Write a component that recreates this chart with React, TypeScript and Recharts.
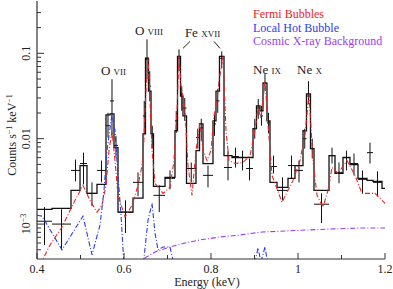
import React from 'react';
import {
  ComposedChart, Line, Scatter, ErrorBar, XAxis, YAxis,
  ReferenceDot, ReferenceLine, Legend, Customized,
} from 'recharts';

const SERIF = '"Liberation Serif", "Times New Roman", serif';
const INK = '#222';

// spectral bins (keV edges) and folded total model
const binEdges = [
  0.4, 0.4345, 0.4782, 0.4989, 0.5149, 0.5379, 0.5586, 0.5678, 0.577, 0.5862,
  0.6207, 0.6437, 0.6494, 0.6563, 0.6621, 0.6678, 0.6943, 0.7172, 0.723, 0.7299,
  0.7356, 0.7437, 0.7655, 0.7736, 0.7816, 0.8046, 0.8115, 0.8195, 0.8299, 0.8483,
  0.8644, 0.8805, 0.8966, 0.9046, 0.9126, 0.9195, 0.9287, 0.9356, 0.9517, 0.977,
  0.9931, 1.0115, 1.0195, 1.0287, 1.0368, 1.0713, 1.0851, 1.1034, 1.1195, 1.1379,
  1.1586, 1.1724, 1.1931, 1.21,
];
const modelTotal = [
  0.00149, 0.00153, 0.00248, 0.00485, 0.00229, 0.00292, 0.019, 0.0195, 0.00786, 0.00138,
  0.00201, 0.0114, 0.0875, 0.0361, 0.0114, 0.00277, 0.00352, 0.0124, 0.0923, 0.0316,
  0.0185, 0.003, 0.00725, 0.0149, 0.00512, 0.0162, 0.0361, 0.0923, 0.00634, 0.00602,
  0.00602, 0.00602, 0.0131, 0.0242, 0.0212, 0.0448, 0.0162, 0.00308, 0.00269, 0.00343,
  0.00485, 0.0124, 0.0334, 0.00765, 0.00248, 0.00634, 0.00392, 0.00602, 0.00499, 0.00343,
  0.00325, 0.00316, 0.00262,
];

// observed rate per bin with 1-sigma bounds
const counts = [
  0.00108, 0.001, 0.00425, 0.00512, 0.00229, 0.00425, 0.0142, 0.0277, 0.0083, 0.00138,
  0.00308, 0.0185, 0.0851, 0.0413, 0.0108, 0.00217, 0.00343, 0.0162, 0.0875, 0.0334,
  0.0229, 0.00448, 0.0103, 0.0134, 0.00372, 0.0149, 0.0277, 0.0875, 0.0046, 0.00618,
  0.00602, 0.00448, 0.0131, 0.0229, 0.0185, 0.0448, 0.0153, 0.00472, 0.00248, 0.00485,
  0.00425, 0.01, 0.0316, 0.00765, 0.00171, 0.00634, 0.00403, 0.00602, 0.00512, 0.00334,
  0.00687, 0.00308,
];
const countsLow = [
  0.00057, 0.000499, 0.00316, 0.00292, 0.00162, 0.00308, 0.0103, 0.0103, 0.00602, 0.000785,
  0.00212, 0.0114, 0.0498, 0.0277, 0.00765, 0.00138, 0.00255, 0.0117, 0.0618, 0.0212,
  0.0162, 0.00308, 0.00765, 0.00948, 0.00269, 0.0108, 0.0201, 0.067, 0.00325, 0.0046,
  0.00425, 0.00325, 0.01, 0.0171, 0.0142, 0.0361, 0.0117, 0.00392, 0.0019, 0.00343,
  0.00308, 0.00765, 0.0255, 0.00585, 0.00103, 0.00512, 0.003, 0.00425, 0.00372, 0.00229,
  0.00512, 0.00212,
];
const countsHigh = [
  0.00158, 0.00149, 0.0057, 0.00687, 0.00308, 0.00555, 0.0201, 0.0498, 0.0108, 0.0019,
  0.00403, 0.0277, 0.1456, 0.0618, 0.0142, 0.00284, 0.00425, 0.0212, 0.1113, 0.0413,
  0.03, 0.00526, 0.0131, 0.0171, 0.00485, 0.0201, 0.0381, 0.1055, 0.00725, 0.00786,
  0.00725, 0.00585, 0.0171, 0.0292, 0.0242, 0.057, 0.0201, 0.00634, 0.00352, 0.00634,
  0.00555, 0.0131, 0.0472, 0.01, 0.00229, 0.00786, 0.00526, 0.00725, 0.0067, 0.00425,
  0.00898, 0.00414,
];

// model components [keV, rate]
const fermiBubbles = [
  [0.4069, 3.33e-4], [0.4299, 5.7e-4], [0.4575, 9.23e-4], [0.4874, 0.0019], [0.5057, 0.00284],
  [0.5218, 0.0019], [0.5379, 0.00138], [0.5494, 0.00166], [0.5586, 0.00284], [0.5655, 0.00725],
  [0.5724, 0.0124], [0.5793, 0.00555], [0.5862, 0.00217], [0.6023, 0.00121], [0.6184, 0.00166],
  [0.6322, 0.00284], [0.6437, 0.00555], [0.6506, 0.0361], [0.6552, 0.0875], [0.6598, 0.0277],
  [0.6644, 0.00725], [0.6713, 0.003], [0.6897, 0.00229], [0.7057, 0.00269], [0.7149, 0.00555],
  [0.7218, 0.0212], [0.7264, 0.0923], [0.731, 0.0413], [0.7356, 0.0316], [0.7402, 0.0212],
  [0.7471, 0.00485], [0.7563, 0.00217], [0.7655, 0.00725], [0.7747, 0.0153], [0.7816, 0.00725],
  [0.7908, 0.00555], [0.8, 0.00725], [0.8069, 0.0185], [0.8138, 0.0277], [0.8184, 0.0472],
  [0.8276, 0.0923], [0.8345, 0.0124], [0.8414, 0.00555], [0.8552, 0.00512], [0.8736, 0.00526],
  [0.8897, 0.00634], [0.9011, 0.0124], [0.908, 0.0229], [0.9149, 0.0175], [0.9241, 0.0472],
  [0.931, 0.0149], [0.9402, 0.00372], [0.9632, 0.0018], [0.9885, 0.00325], [1.0046, 0.00555],
  [1.0161, 0.0114], [1.0253, 0.0334], [1.0345, 0.00555], [1.0437, 0.00217], [1.0575, 0.00158],
  [1.069, 0.00248], [1.0782, 0.0046], [1.092, 0.00392], [1.1126, 0.00555], [1.131, 0.00372],
  [1.1471, 0.00229], [1.177, 0.00229], [1.2046, 0.00166],
];
const localHotBubble = [
  [0.4, 0.00127], [0.4115, 0.00124], [0.4575, 4.99e-4], [0.5057, 0.00124], [0.5264, 4.36e-4],
  [0.5448, 9.73e-4], [0.554, 0.00248], [0.5609, 0.00725], [0.5724, 0.0195], [0.5793, 0.0124],
  [0.5862, 0.00372], [0.5931, 0.00127], [0.6, 3.33e-4], [0.6138, 1.31e-4], [0.6368, 1.31e-4],
  [0.646, 4.03e-4], [0.6552, 0.00111], [0.6644, 0.00175], [0.6713, 7.85e-4], [0.6782, 4.99e-4],
  [0.6897, 5.4e-4], [0.7057, 5.4e-4], [0.7149, 3.33e-4], [0.7287, 1.31e-4], [0.8897, 1.31e-4],
  [0.9034, 4.03e-4], [0.908, 5.26e-4], [0.9149, 3.61e-4], [0.9241, 5.4e-4], [0.931, 3.33e-4],
  [0.9471, 1.31e-4], [1.2046, 1.31e-4],
];
const cosmicBackground = [
  [0.6138, 1.95e-4], [0.6368, 3.08e-4], [0.6483, 4.03e-4], [0.6713, 4.72e-4], [0.7057, 5.4e-4],
  [0.7402, 6.01e-4], [0.7747, 6.52e-4], [0.8207, 7.06e-4], [0.8667, 7.45e-4], [0.9172, 8.07e-4],
  [0.9701, 8.29e-4], [1.0161, 8.51e-4], [1.0736, 8.75e-4], [1.1425, 8.98e-4], [1.2046, 8.98e-4],
];

const legendOrder = ['Fermi Bubbles', 'Local Hot Bubble', 'Cosmic X-ray Background'];

const xTicks = [0.4, 0.5, 0.6, 0.7, 0.8, 0.9, 1, 1.1, 1.2];
const xLabelled = [0.4, 0.6, 0.8, 1, 1.2];
const yTicks = [
  5e-4, 6e-4, 7e-4, 8e-4, 9e-4, 0.001, 0.002, 0.003, 0.004, 0.005, 0.006, 0.007, 0.008, 0.009,
  0.01, 0.02, 0.03, 0.04, 0.05, 0.06, 0.07, 0.08, 0.09, 0.1, 0.2, 0.3,
];

// line identifications, placed in data coordinates
const ionLabels = [
  { el: 'O', ion: 'VII', e: 0.5759, v: 0.0555 },
  { el: 'O', ion: 'VIII', e: 0.6575, v: 0.166 },
  { el: 'Fe', ion: 'XVII', e: 0.7805, v: 0.1535 },
  { el: 'Ne', ion: 'IX', e: 0.9287, v: 0.057 },
  { el: 'Ne', ion: 'X', e: 1.0264, v: 0.057 },
];
const feLeaders = [
  [{ x: 0.7356, y: 0.1143 }, { x: 0.7517, y: 0.1378 }],
  [{ x: 0.8069, y: 0.1378 }, { x: 0.8207, y: 0.1143 }],
];

const stepData = binEdges.map((e, i) => ({ e, m: modelTotal[Math.min(i, modelTotal.length - 1)] }));
const pointData = counts.map((v, i) => ({
  e: (binEdges[i] + binEdges[i + 1]) / 2,
  v,
  xe: (binEdges[i + 1] - binEdges[i]) / 2,
  ye: [v - countsLow[i], countsHigh[i] - v],
}));
const toRows = (arr: number[][]) => arr.map(([e, v]) => ({ e, v }));

const XTick = ({ x, y, payload, side }: any) => {
  const major = xLabelled.includes(payload.value);
  const len = major ? 6 : 4;
  const dir = side === 'bottom' ? -1 : 1;
  return (
    <g>
      <line x1={x} x2={x} y1={y} y2={y + dir * len} stroke="#333" strokeWidth={1} />
      {side === 'bottom' && major && (
        <text x={x} y={y + 14} textAnchor="middle" fontSize={12} fontFamily={SERIF} fill={INK}>
          {String(payload.value)}
        </text>
      )}
    </g>
  );
};

const YTick = ({ x, y, payload, side }: any) => {
  const v = payload.value;
  const lg = Math.log10(v);
  const major = Math.abs(lg - Math.round(lg)) < 1e-6;
  const len = major ? 7 : 4;
  const dir = side === 'left' ? 1 : -1;
  const lx = x - 7;
  let label: React.ReactNode = null;
  if (side === 'left' && major) {
    label = v >= 0.01 ? String(v) : (
      <>
        10<tspan dy={-4} fontSize={8}>−3</tspan>
      </>
    );
  }
  return (
    <g>
      <line x1={x} x2={x + dir * len} y1={y} y2={y} stroke="#333" strokeWidth={1} />
      {label && (
        <text x={lx} y={y} transform={`rotate(-90 ${lx} ${y})`} textAnchor="middle"
          fontSize={12} fontFamily={SERIF} fill={INK}>
          {label}
        </text>
      )}
    </g>
  );
};

const IonLabel = ({ viewBox, el, ion }: any) => (
  <text x={viewBox.x} y={viewBox.y} textAnchor="middle" fontFamily={SERIF} fill={INK} fontSize={13}>
    {el} <tspan fontSize={9}>{ion}</tspan>
  </text>
);

const Titles = () => (
  <g fontFamily={SERIF} fill={INK} fontSize={12}>
    <text x={207} y={286} textAnchor="middle">Energy (keV)</text>
    <text x={16} y={135} transform="rotate(-90 16 135)" textAnchor="middle">
      Counts s<tspan dy={-4} fontSize={8}>−1</tspan>
      <tspan dy={4}> keV</tspan>
      <tspan dy={-4} fontSize={8}>−1</tspan>
    </text>
  </g>
);

const LegendBox = ({ payload }: any) => {
  const items = legendOrder
    .map((name) => (payload || []).find((p: any) => p.value === name))
    .filter(Boolean);
  return (
    <div style={{ fontFamily: SERIF, fontSize: 12, lineHeight: '13.5px', whiteSpace: 'nowrap' }}>
      {items.map((p: any) => (
        <div key={p.value} style={{ color: p.color }}>{p.value}</div>
      ))}
    </div>
  );
};

export default function App() {
  return (
    <div style={{ position: 'absolute', left: 0, top: 0, background: '#fff' }}>
      <ComposedChart width={393} height={289} margin={{ top: 1, right: 8, bottom: 0, left: 0 }}>
        <XAxis xAxisId="b" type="number" dataKey="e" domain={[0.4, 1.2]} allowDataOverflow
          ticks={xTicks} interval={0} height={30} tickSize={0} tickMargin={0}
          axisLine={{ stroke: '#333', strokeWidth: 1.2 }} tickLine={false}
          tick={(p: any) => <XTick {...p} side="bottom" />} />
        <XAxis xAxisId="t" orientation="top" type="number" dataKey="e" domain={[0.4, 1.2]} allowDataOverflow
          ticks={xTicks} interval={0} height={0} tickSize={0} tickMargin={0}
          axisLine={{ stroke: '#333', strokeWidth: 1.2 }} tickLine={false}
          tick={(p: any) => <XTick {...p} side="top" />} />
        <YAxis yAxisId="l" type="number" scale="log" domain={[3.9e-4, 0.41]} allowDataOverflow
          ticks={yTicks} interval={0} width={37} tickSize={0} tickMargin={0}
          axisLine={{ stroke: '#333', strokeWidth: 1.2 }} tickLine={false}
          tick={(p: any) => <YTick {...p} side="left" />} />
        <YAxis yAxisId="r" orientation="right" type="number" scale="log" domain={[3.9e-4, 0.41]} allowDataOverflow
          ticks={yTicks} interval={0} width={0} tickSize={0} tickMargin={0}
          axisLine={{ stroke: '#333', strokeWidth: 1.2 }} tickLine={false}
          tick={(p: any) => <YTick {...p} side="right" />} />

        <Line xAxisId="b" yAxisId="l" data={stepData} dataKey="m" type="stepAfter" stroke="#111"
          strokeWidth={1.3} dot={false} legendType="none" isAnimationActive={false} />
        <Scatter xAxisId="b" yAxisId="l" data={pointData} dataKey="v" fill="none"
          shape={() => <g />} legendType="none" isAnimationActive={false}>
          <ErrorBar dataKey="ye" direction="y" width={0} stroke="#111" strokeWidth={1} />
          <ErrorBar dataKey="xe" direction="x" width={0} stroke="#111" strokeWidth={1} />
        </Scatter>
        <Line xAxisId="b" yAxisId="l" data={toRows(fermiBubbles)} dataKey="v" name="Fermi Bubbles"
          type="linear" stroke="#ee2222" strokeWidth={1.1} strokeDasharray="5 2 1 2" dot={false}
          isAnimationActive={false} />
        <Line xAxisId="b" yAxisId="l" data={toRows(localHotBubble)} dataKey="v" name="Local Hot Bubble"
          type="linear" stroke="#2a3cf0" strokeWidth={1.1} strokeDasharray="5 2 1 2" dot={false}
          isAnimationActive={false} />
        <Line xAxisId="b" yAxisId="l" data={toRows(cosmicBackground)} dataKey="v" name="Cosmic X-ray Background"
          type="linear" stroke="#9b3cf5" strokeWidth={1.1} strokeDasharray="5 2 1 2" dot={false}
          isAnimationActive={false} />

        {ionLabels.map((l) => (
          <ReferenceDot key={l.el + l.ion} xAxisId="b" yAxisId="l" x={l.e} y={l.v} r={0}
            fill="none" stroke="none" ifOverflow="visible"
            label={(p: any) => <IonLabel viewBox={p.viewBox} el={l.el} ion={l.ion} />} />
        ))}
        {feLeaders.map((seg, i) => (
          <ReferenceLine key={i} xAxisId="b" yAxisId="l" segment={seg} stroke={INK} strokeWidth={1} />
        ))}

        <Legend layout="vertical" align="center" verticalAlign="middle" content={<LegendBox />}
          wrapperStyle={{ top: 8, left: 253, width: 140, height: 42 }} />
        <Customized component={Titles} />
      </ComposedChart>
    </div>
  );
}
